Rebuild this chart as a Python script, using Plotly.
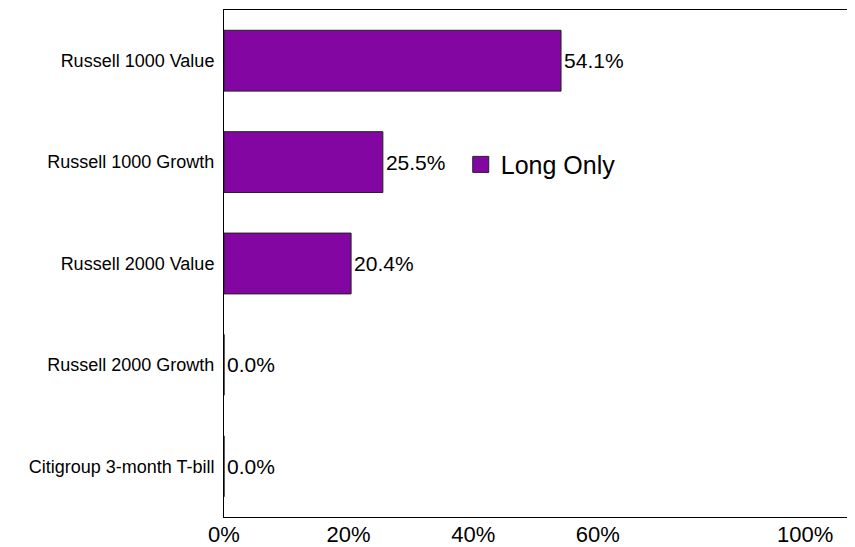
import plotly.graph_objects as go

#----------------------------------------DATA-------------------------------------------------------

categories = ['Russell 1000 Value', 'Russell 1000 Growth', 'Russell 2000 Value',
              'Russell 2000 Growth', 'Citigroup 3-month T-bill']
long_only = [0.541, 0.255, 0.204, 0.0, 0.0]
series_name = 'Long Only'

tick_vals = [0, 0.2, 0.4, 0.6, 1.0]
tick_text = ['0%', '20%', '40%', '60%', '100%']

bar_color = '#8306A3'
font_family = 'Liberation Sans, Arial, sans-serif'

#----------------------------------------FIGURE-------------------------------------------------------

fig = go.Figure()

fig.add_trace(go.Bar(
    y=categories,
    x=long_only,
    orientation='h',
    width=0.6,
    marker=dict(color=bar_color, line=dict(color='#222222', width=1)),
    text=long_only,
    texttemplate='%{x:.1%}',
    textposition='outside',
    textfont=dict(size=21, color='black', family=font_family),
    cliponaxis=False,
    showlegend=False,
))

# legend proxy so the swatch is a bigger square
fig.add_trace(go.Scatter(
    x=[None], y=[None],
    mode='markers',
    name=series_name,
    marker=dict(symbol='square', size=16, color=bar_color, line=dict(color='#222222', width=1)),
    showlegend=True,
))

# page body adds an 8px margin, so the figure is a bit smaller than the window
fig.update_layout(
    width=847, height=539,
    margin=dict(l=216, r=8, t=2, b=30),
    paper_bgcolor='white',
    plot_bgcolor='white',
    font=dict(family=font_family, color='black'),
    showlegend=True,
    legend=dict(x=0.38, y=0.695, xanchor='left', yanchor='middle',
                bgcolor='rgba(0,0,0,0)', font=dict(size=25),
                itemsizing='trace'),
    bargap=0.4,
)

fig.update_xaxes(
    range=[0, 1.0],
    tickvals=tick_vals[:-1],
    ticktext=tick_text[:-1],
    tickfont=dict(size=22),
    showgrid=False, zeroline=False,
    showline=True, linecolor='black', linewidth=1, mirror=True,
    ticks='', ticklabelstandoff=-2,
    automargin=False,
)

fig.update_yaxes(
    categoryorder='array', categoryarray=categories,
    autorange='reversed',
    tickfont=dict(size=18),
    showgrid=False, zeroline=False,
    showline=True, linecolor='black', linewidth=1, mirror=True,
    ticks='', ticklabelstandoff=5,
    automargin=False,
)

# last tick label pulled inside the page like the original
fig.add_annotation(x=tick_vals[-1], y=0, xref='x', yref='paper',
                   text=tick_text[-1], showarrow=False,
                   xanchor='right', yanchor='top', xshift=-12, yshift=-3,
                   font=dict(size=22, color='black'))

fig.write_html("out.html")
